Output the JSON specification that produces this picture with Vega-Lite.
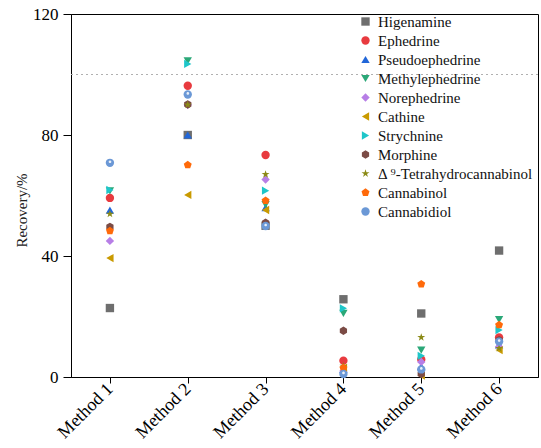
{
  "$schema": "https://vega.github.io/schema/vega-lite/v6.json",
  "width": 467,
  "height": 363,
  "autosize": {"type": "none"},
  "padding": {"left": 71, "top": 14, "right": 3, "bottom": 71},
  "background": "white",
  "config": {
    "font": "Liberation Serif",
    "view": {"stroke": "black", "strokeWidth": 1},
    "axis": {"domainColor": "black", "tickColor": "black", "labelColor": "black", "titleColor": "#222", "grid": false, "titleFontWeight": "normal"}
  },
  "datasets": {
    "rec": [
      {"compound": "Higenamine", "method": "Method 1", "recovery": 22.8},
      {"compound": "Higenamine", "method": "Method 2", "recovery": 80},
      {"compound": "Higenamine", "method": "Method 3", "recovery": 50},
      {"compound": "Higenamine", "method": "Method 4", "recovery": 25.7},
      {"compound": "Higenamine", "method": "Method 5", "recovery": 21},
      {"compound": "Higenamine", "method": "Method 6", "recovery": 41.8},
      {"compound": "Ephedrine", "method": "Method 1", "recovery": 59.2},
      {"compound": "Ephedrine", "method": "Method 2", "recovery": 96.3},
      {"compound": "Ephedrine", "method": "Method 3", "recovery": 73.4},
      {"compound": "Ephedrine", "method": "Method 4", "recovery": 5.4},
      {"compound": "Ephedrine", "method": "Method 5", "recovery": 5.8},
      {"compound": "Ephedrine", "method": "Method 6", "recovery": 13.1},
      {"compound": "Pseudoephedrine", "method": "Method 1", "recovery": 55.2},
      {"compound": "Pseudoephedrine", "method": "Method 2", "recovery": 80},
      {"compound": "Pseudoephedrine", "method": "Method 3", "recovery": 56},
      {"compound": "Pseudoephedrine", "method": "Method 4", "recovery": 2.5},
      {"compound": "Pseudoephedrine", "method": "Method 5", "recovery": 3.4},
      {"compound": "Pseudoephedrine", "method": "Method 6", "recovery": 10.6},
      {"compound": "Methylephedrine", "method": "Method 1", "recovery": 61.5},
      {"compound": "Methylephedrine", "method": "Method 2", "recovery": 104.5},
      {"compound": "Methylephedrine", "method": "Method 3", "recovery": 57},
      {"compound": "Methylephedrine", "method": "Method 4", "recovery": 21},
      {"compound": "Methylephedrine", "method": "Method 5", "recovery": 8.9},
      {"compound": "Methylephedrine", "method": "Method 6", "recovery": 19},
      {"compound": "Norephedrine", "method": "Method 1", "recovery": 45},
      {"compound": "Norephedrine", "method": "Method 2", "recovery": 90},
      {"compound": "Norephedrine", "method": "Method 3", "recovery": 65.3},
      {"compound": "Norephedrine", "method": "Method 4", "recovery": 2},
      {"compound": "Norephedrine", "method": "Method 5", "recovery": 5},
      {"compound": "Norephedrine", "method": "Method 6", "recovery": 10},
      {"compound": "Cathine", "method": "Method 1", "recovery": 39.3},
      {"compound": "Cathine", "method": "Method 2", "recovery": 60.2},
      {"compound": "Cathine", "method": "Method 3", "recovery": 55.2},
      {"compound": "Cathine", "method": "Method 4", "recovery": 3},
      {"compound": "Cathine", "method": "Method 5", "recovery": 0.5},
      {"compound": "Cathine", "method": "Method 6", "recovery": 8.9},
      {"compound": "Strychnine", "method": "Method 1", "recovery": 61.8},
      {"compound": "Strychnine", "method": "Method 2", "recovery": 103.5},
      {"compound": "Strychnine", "method": "Method 3", "recovery": 61.6},
      {"compound": "Strychnine", "method": "Method 4", "recovery": 22.7},
      {"compound": "Strychnine", "method": "Method 5", "recovery": 7},
      {"compound": "Strychnine", "method": "Method 6", "recovery": 15.5},
      {"compound": "Morphine", "method": "Method 1", "recovery": 49.6},
      {"compound": "Morphine", "method": "Method 2", "recovery": 90.1},
      {"compound": "Morphine", "method": "Method 3", "recovery": 51},
      {"compound": "Morphine", "method": "Method 4", "recovery": 15.3},
      {"compound": "Morphine", "method": "Method 5", "recovery": 1},
      {"compound": "Morphine", "method": "Method 6", "recovery": 12.2},
      {"compound": "Δ ⁹-Tetrahydrocannabinol", "method": "Method 1", "recovery": 53.9},
      {"compound": "Δ ⁹-Tetrahydrocannabinol", "method": "Method 2", "recovery": 90},
      {"compound": "Δ ⁹-Tetrahydrocannabinol", "method": "Method 3", "recovery": 67},
      {"compound": "Δ ⁹-Tetrahydrocannabinol", "method": "Method 4", "recovery": 3.6},
      {"compound": "Δ ⁹-Tetrahydrocannabinol", "method": "Method 5", "recovery": 13.1},
      {"compound": "Δ ⁹-Tetrahydrocannabinol", "method": "Method 6", "recovery": 9.5},
      {"compound": "Cannabinol", "method": "Method 1", "recovery": 48.3},
      {"compound": "Cannabinol", "method": "Method 2", "recovery": 70.1},
      {"compound": "Cannabinol", "method": "Method 3", "recovery": 58.3},
      {"compound": "Cannabinol", "method": "Method 4", "recovery": 3},
      {"compound": "Cannabinol", "method": "Method 5", "recovery": 30.7},
      {"compound": "Cannabinol", "method": "Method 6", "recovery": 17.2},
      {"compound": "Cannabidiol", "method": "Method 1", "recovery": 70.8},
      {"compound": "Cannabidiol", "method": "Method 2", "recovery": 93.4},
      {"compound": "Cannabidiol", "method": "Method 3", "recovery": 49.9},
      {"compound": "Cannabidiol", "method": "Method 4", "recovery": 1},
      {"compound": "Cannabidiol", "method": "Method 5", "recovery": 2.5},
      {"compound": "Cannabidiol", "method": "Method 6", "recovery": 11.7}
    ],
    "ref": [{"level": 100}]
  },
  "layer": [
    {
      "data": {"name": "ref"},
      "mark": {"type": "rule", "color": "#b0b0b0", "strokeDash": [2, 3], "strokeWidth": 1},
      "encoding": {"y": {"field": "level", "type": "quantitative", "scale": {"domain": [0, 120]}}}
    },
    {
      "data": {"name": "rec"},
      "mark": {"type": "point", "filled": true, "opacity": 1, "size": 70},
      "encoding": {
        "x": {
          "field": "method", "type": "ordinal",
          "scale": {"type": "point", "padding": 0.5},
          "axis": {"title": null, "labelAngle": -45, "labelAlign": "right", "labelBaseline": "middle", "labelFont": "Liberation Serif", "labelFontSize": 18, "tickSize": 6, "labelPadding": 3, "domain": true}
        },
        "y": {
          "field": "recovery", "type": "quantitative",
          "scale": {"domain": [0, 120], "nice": false, "zero": true},
          "axis": {"title": "Recovery/%", "values": [0, 40, 80, 120], "tickSize": 8, "labelPadding": 5, "labelFont": "Liberation Serif", "labelFontSize": 17, "titleFont": "Liberation Serif", "titleFontSize": 15, "titleX": -50, "titleY": 196, "titleAngle": -90, "titleBaseline": "middle", "titleAlign": "center"}
        },
        "color": {
          "field": "compound", "type": "nominal",
          "sort": ["Higenamine", "Ephedrine", "Pseudoephedrine", "Methylephedrine", "Norephedrine", "Cathine", "Strychnine", "Morphine", "Δ ⁹-Tetrahydrocannabinol", "Cannabinol", "Cannabidiol"],
          "scale": {
            "domain": ["Higenamine", "Ephedrine", "Pseudoephedrine", "Methylephedrine", "Norephedrine", "Cathine", "Strychnine", "Morphine", "Δ ⁹-Tetrahydrocannabinol", "Cannabinol", "Cannabidiol"],
            "range": ["#6e6e6e", "#e83a3f", "#2166d8", "#2ba878", "#b77ee6", "#c99a00", "#1ec6c9", "#7b4b45", "#8b8a16", "#ff6a0a", "#6b98d6"]
          },
          "legend": {"title": null, "orient": "none", "legendX": 287, "legendY": 0, "padding": 0, "labelFontSize": 15, "labelOffset": 5, "rowPadding": 3, "symbolSize": 70, "labelColor": "#111", "symbolOpacity": 1, "labelFont": "Liberation Serif"}
        },
        "shape": {
          "field": "compound", "type": "nominal",
          "scale": {
            "domain": ["Higenamine", "Ephedrine", "Pseudoephedrine", "Methylephedrine", "Norephedrine", "Cathine", "Strychnine", "Morphine", "Δ ⁹-Tetrahydrocannabinol", "Cannabinol", "Cannabidiol"],
            "range": ["square", "circle", "triangle-up", "triangle-down", "diamond", "triangle-left", "triangle-right", "M0,-1L0.866,-0.5L0.866,0.5L0,1L-0.866,0.5L-0.866,-0.5Z", "M0,-1L0.2245,-0.309L0.951,-0.309L0.3633,0.118L0.5878,0.809L0,0.382L-0.5878,0.809L-0.3633,0.118L-0.951,-0.309L-0.2245,-0.309Z", "M0,-1L0.951,-0.309L0.5878,0.809L-0.5878,0.809L-0.951,-0.309Z", "circle"]
          }
        }
      }
    },
    {
      "data": {"name": "rec"},
      "transform": [{"filter": "datum.compound === 'Cannabidiol'"}],
      "mark": {"type": "point", "filled": true, "color": "white", "opacity": 0.85, "size": 70, "shape": "M-0.3,-0.25a0.32,0.32 0 1,0 0.64,0a0.32,0.32 0 1,0 -0.64,0Z"},
      "encoding": {
        "x": {"field": "method", "type": "ordinal"},
        "y": {"field": "recovery", "type": "quantitative"}
      }
    }
  ]
}
